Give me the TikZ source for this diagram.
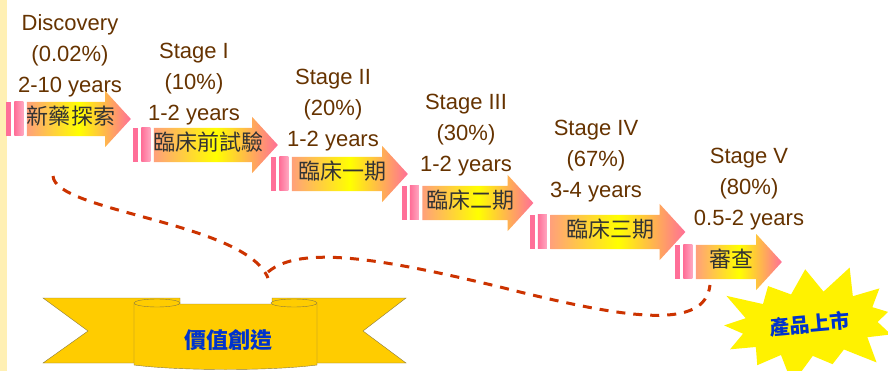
\documentclass[tikz,border=0pt]{standalone}
\usepackage{fontspec}
\setmainfont{Liberation Sans}
\newfontfamily\cjk{Noto Sans CJK TC}
\usepackage{tikz}
\usetikzlibrary{positioning}
\usetikzlibrary{shapes}
\usetikzlibrary{shapes.arrows}
\usetikzlibrary{shapes.symbols}
\definecolor{stagebrown}{HTML}{663300}
\definecolor{dashred}{HTML}{CC3300}
\definecolor{ribbongold}{HTML}{FFCC00}
\definecolor{ribbonedge}{HTML}{8A7A40}
\definecolor{valueblue}{HTML}{0033CC}
\definecolor{salmon}{HTML}{FFA07A}
\definecolor{hotpink}{HTML}{FF6F98}
\definecolor{stripe}{HTML}{FFF0B4}
\tikzstyle{brace} = [draw=dashred, line width=3pt, dash pattern=on 9pt off 8pt]

\begin{document}
\begin{tikzpicture}[x=1pt, y=-1pt]

\tikzstyle{phase} = [single arrow, single arrow head extend=11pt, single arrow tip angle=95, left color=salmon, right color=hotpink, middle color=yellow, text=black!80, font=\cjk\fontsize{22}{22}\selectfont, text height=16pt, text depth=4pt, inner ysep=7pt, inner xsep=-8pt]
\tikzstyle{barthin} = [rectangle, fill=hotpink, minimum width=5pt, minimum height=34pt, inner sep=0pt]
\tikzstyle{barwide} = [rectangle, left color=hotpink, right color=hotpink!60, minimum width=9pt, minimum height=34pt, inner sep=0pt]
\tikzstyle{stagetxt} = [align=center, text=stagebrown, font=\fontsize{22}{31}\selectfont, inner sep=0pt]
\tikzstyle{burst} = [starburst, fill=yellow, starburst points=13, starburst point height=32pt, minimum width=200pt, minimum height=128pt, rotate=5, text=valueblue, font=\cjk\bfseries\fontsize{20}{20}\selectfont]

\useasboundingbox (0,0) rectangle (888,371);
\fill[white] (0,0) rectangle (888,371);
\fill[stripe] (0,0) rectangle (7,371);

% stage texts
\node [stagetxt] (s0) at (70,56) {Discovery\\(0.02\%)\\2-10 years};
\node [stagetxt] (s1) at (194,84) {Stage I\\(10\%)\\1-2 years};
\node [stagetxt] (s2) at (333,110) {Stage II\\(20\%)\\1-2 years};
\node [stagetxt] (s3) at (466,135) {Stage III\\(30\%)\\1-2 years};
\node [stagetxt] (s4) at (596,161) {Stage IV\\(67\%)\\3-4 years};
\node [stagetxt] (s5) at (749,189) {Stage V\\(80\%)\\0.5-2 years};

% Place arrows
\node [phase, minimum height=104pt] (p0) at (71,119) {新藥探索};
\node [phase, minimum height=124pt] (p1) at (208,145) {臨床前試驗};
\node [phase, minimum height=116pt] (p2) at (342,174) {臨床一期};
\node [phase, minimum height=111pt] (p3) at (470,203) {臨床二期};
\node [phase, minimum height=135pt] (p4) at (610,232) {臨床三期};
\node [phase, minimum height=86pt] (p5) at (731,262) {審查};

% double bars in front of each arrow
\foreach \p in {p0,p1,p2,p3,p4,p5}{
  \node [barwide, left=3pt of \p] (\p b) {};
  \node [barthin, left=3pt of \p b] (\p a) {};
}

% ribbon
\filldraw[fill=ribbongold, draw=ribbonedge, thin] (43,298) -- (180,298) -- (180,363) -- (43,363) -- (88,331) -- cycle;
\filldraw[fill=ribbongold, draw=ribbonedge, thin] (272,298) -- (406,298) -- (363,331) -- (406,363) -- (272,363) -- cycle;
\filldraw[fill=ribbongold, draw=ribbonedge, thin] (134,304) -- (134,365) .. controls (180,371) and (271,371) .. (317,365) -- (317,304) -- cycle;
\filldraw[fill=ribbongold, draw=ribbonedge, thin] (157,303) ellipse [x radius=23, y radius=4];
\filldraw[fill=ribbongold, draw=ribbonedge, thin] (294,303) ellipse [x radius=23, y radius=4];
\node [text=valueblue, font=\cjk\bfseries\fontsize{22}{22}\selectfont] (value) at (228,340) {價值創造};

% market burst
\node [burst] (market) at (810,324) {產品上市};

% brace
\coordinate (b0) at (53,176);
\coordinate (b1) at (268,278);
\coordinate (b2) at (268,272);
\coordinate (b3) at (500,287);
\coordinate (b4) at (710,285);
\path [brace] (b0) .. controls (55,212) and (245,222) .. (b1);
\path [brace] (b2) .. controls (300,245) and (380,258) .. (b3) .. controls (630,320) and (705,330) .. (b4);

\end{tikzpicture}
\end{document}
